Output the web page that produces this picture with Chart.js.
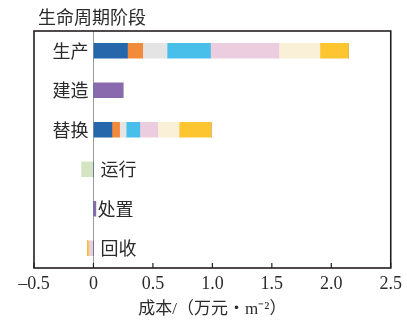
<!DOCTYPE html>
<html>
<head>
<meta charset="utf-8">
<script src="https://cdn.jsdelivr.net/npm/chart.js@4/dist/chart.umd.min.js"></script>
<style>
  html, body { margin: 0; padding: 0; background: #fff; }
  #wrap { width: 407px; height: 320px; position: relative; }
</style>
</head>
<body>
<div id="wrap"><canvas id="c"></canvas></div>
<script>
// Life-cycle stages (rows, top to bottom)
const stages = ['生产', '建造', '替换', '运行', '处置', '回收'];

// Cost contributions per stage, 万元/m²
const partBlue   = [0.286, 0,    0.155, 0,     0,    0];
const partOrange = [0.128, 0,    0.065, 0,     0,    0];
const partGrey   = [0.205, 0,    0.055, 0,     0,    0];
const partCyan   = [0.365, 0,    0.115, 0,     0,    0];
const partPink   = [0.575, 0,    0.150, 0,     0,    -0.035];
const partCream  = [0.345, 0,    0.180, 0,     0,    0];
const partYellow = [0.240, 0,    0.270, 0,     0,    -0.015];
const partPurple = [0,     0.25, 0,     0,     0.02, 0];
const partGreen  = [0,     0,    0,     -0.10, 0,    0];

// Axis ticks
const xTicks = [-0.5, 0, 0.5, 1.0, 1.5, 2.0, 2.5];

const serif = "'Liberation Serif', 'Noto Sans CJK SC', serif";
const cjk = "'Noto Sans CJK SC', sans-serif";
const ink = '#2b2b2b';

const series = [
  { label: 'A', data: partBlue,   color: '#2667ab' },
  { label: 'B', data: partOrange, color: '#f28a3b' },
  { label: 'C', data: partGrey,   color: '#e4e4e4' },
  { label: 'D', data: partCyan,   color: '#47bfea' },
  { label: 'E', data: partPink,   color: '#ebcddf' },
  { label: 'F', data: partCream,  color: '#faf0d7' },
  { label: 'G', data: partYellow, color: '#fdc530' },
  { label: 'H', data: partPurple, color: '#8a6aaf' },
  { label: 'I', data: partGreen,  color: '#d5e5c3' }
];

// Stage names sit beside the zero line: left for the first three rows, right for the rest
const stageLabels = {
  id: 'stageLabels',
  afterDatasetsDraw(chart) {
    const { ctx, scales: { x, y } } = chart;
    const x0 = x.getPixelForValue(0);
    ctx.save();
    ctx.font = '18px ' + cjk;
    ctx.fillStyle = ink;
    ctx.textBaseline = 'middle';
    stages.forEach((name, i) => {
      const py = y.getPixelForValue(i);
      if (i < 3) {
        ctx.textAlign = 'right';
        ctx.fillText(name, x0 - 5, py);
      } else {
        ctx.textAlign = 'left';
        ctx.fillText(name, x0 + (i === 4 ? 4 : 7), py);
      }
    });
    ctx.restore();
  }
};

// Plot frame, inward tick marks and the heading above the frame
const frame = {
  id: 'frame',
  afterDraw(chart) {
    const { ctx, chartArea: a, scales: { x } } = chart;
    ctx.save();
    ctx.strokeStyle = '#231f20';
    ctx.lineWidth = 1.6;
    ctx.strokeRect(a.left, a.top, a.right - a.left, a.bottom - a.top);
    ctx.lineWidth = 1.2;
    x.ticks.forEach(t => {
      const px = x.getPixelForValue(t.value);
      ctx.beginPath();
      ctx.moveTo(px, a.bottom);
      ctx.lineTo(px, a.bottom - 5);
      ctx.stroke();
    });
    ctx.font = '18px ' + cjk;
    ctx.fillStyle = ink;
    ctx.textAlign = 'left';
    ctx.textBaseline = 'middle';
    ctx.fillText('生命周期阶段', 38, 17);
    ctx.restore();
  }
};

new Chart(document.getElementById('c'), {
  type: 'bar',
  data: {
    labels: stages,
    datasets: series.map(s => ({
      label: s.label,
      data: s.data,
      backgroundColor: s.color,
      borderWidth: 0,
      barThickness: 15
    }))
  },
  options: {
    indexAxis: 'y',
    responsive: true,
    maintainAspectRatio: false,
    animation: false,
    layout: { padding: { left: 34, right: 14, top: 31, bottom: 0 } },
    plugins: { legend: { display: false }, tooltip: { enabled: false }, title: { display: false } },
    scales: {
      x: {
        stacked: true,
        min: -0.5,
        max: 2.5,
        afterBuildTicks(scale) { scale.ticks = xTicks.map(v => ({ value: v })); },
        grid: {
          drawTicks: false,
          color: c => (c.tick && c.tick.value === 0 ? '#9a9a9a' : 'rgba(0,0,0,0)'),
          lineWidth: 1
        },
        border: { display: false },
        ticks: {
          padding: 5,
          color: ink,
          font: { family: serif, size: 18 },
          maxRotation: 0,
          callback: v => (v === 0 ? '0' : (v < 0 ? '\u2013' + Math.abs(v).toFixed(1) : v.toFixed(1)))
        },
        title: {
          display: true,
          text: '成本/（万元・m\u207b\u00b2）',
          color: ink,
          font: { family: serif, size: 17 },
          padding: { top: 0, bottom: 0 }
        }
      },
      y: {
        stacked: true,
        display: false
      }
    }
  },
  plugins: [stageLabels, frame]
});
</script>
</body>
</html>
